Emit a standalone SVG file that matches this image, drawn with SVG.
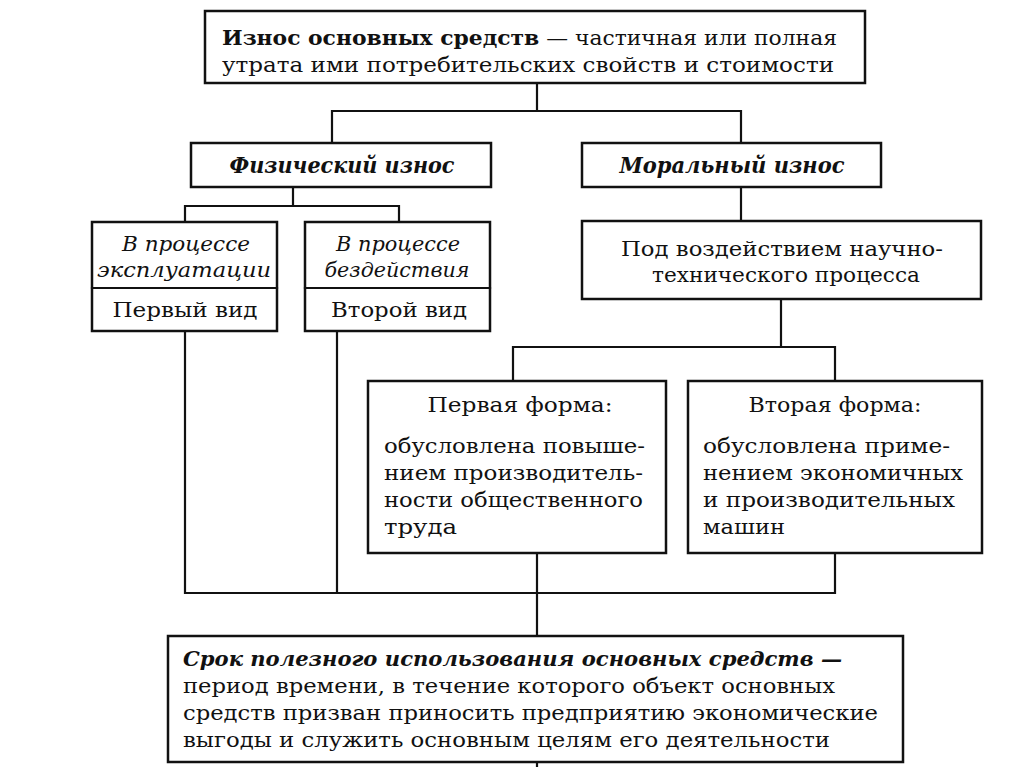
<svg xmlns="http://www.w3.org/2000/svg" width="1024" height="767" viewBox="0 0 1024 767">
<style>
.box{fill:#fff;stroke:#111;stroke-width:2.5}
.ln{fill:none;stroke:#111;stroke-width:2.2;stroke-linecap:square}
text{font-family:"DejaVu Serif","Liberation Serif",serif;font-size:21px;fill:#111}
.bi{font-weight:bold;font-style:italic}
.it{font-style:italic}
.b{font-weight:bold}
.c{text-anchor:middle}
</style>
<rect width="1024" height="767" fill="#fff"/>
<g id="connectors">
<path class="ln" d="M537 83V111M332 111H741M332 111V143M741 111V143"/>
<path class="ln" d="M293 187V206M185 206H399M185 206V222M399 206V222"/>
<path class="ln" d="M741 187V221"/>
<path class="ln" d="M781 299V347M513 347H835M513 347V381M835 347V381"/>
<path class="ln" d="M185 331V593H835V553M337 331V593M537 553V636M537 762V767"/>
</g>
<g id="node-top">
<rect class="box" x="205" y="11" width="660" height="72"/>
<text x="222" y="45" textLength="615" lengthAdjust="spacingAndGlyphs"><tspan class="b">Износ основных средств</tspan> — частичная или полная</text>
<text x="222" y="72" textLength="612" lengthAdjust="spacingAndGlyphs">утрата ими потребительских свойств и стоимости</text>
</g>
<g id="node-phys">
<rect class="box" x="191" y="143" width="300" height="44"/>
<text class="bi c" x="342" y="173" textLength="225" lengthAdjust="spacingAndGlyphs" style="font-size:22px">Физический износ</text>
</g>
<g id="node-moral">
<rect class="box" x="582" y="143" width="299" height="44"/>
<text class="bi c" x="732" y="173" textLength="225" lengthAdjust="spacingAndGlyphs" style="font-size:22px">Моральный износ</text>
</g>
<g id="node-expl">
<rect class="box" x="92" y="222" width="185" height="109"/>
<line class="ln" x1="92" y1="288" x2="277" y2="288"/>
<text class="it c" x="186" y="251" textLength="128" lengthAdjust="spacingAndGlyphs">В процессе</text>
<text class="it c" x="184" y="277" textLength="174" lengthAdjust="spacingAndGlyphs">эксплуатации</text>
<text class="c" x="185" y="317" textLength="145" lengthAdjust="spacingAndGlyphs">Первый вид</text>
</g>
<g id="node-idle">
<rect class="box" x="305" y="222" width="185" height="109"/>
<line class="ln" x1="305" y1="288" x2="490" y2="288"/>
<text class="it c" x="398" y="251" textLength="124" lengthAdjust="spacingAndGlyphs">В процессе</text>
<text class="it c" x="397" y="277" textLength="145" lengthAdjust="spacingAndGlyphs">бездействия</text>
<text class="c" x="399" y="317" textLength="136" lengthAdjust="spacingAndGlyphs">Второй вид</text>
</g>
<g id="node-ntp">
<rect class="box" x="582" y="221" width="399" height="78"/>
<text class="c" x="782" y="256" textLength="322" lengthAdjust="spacingAndGlyphs">Под воздействием научно-</text>
<text class="c" x="786" y="282" textLength="268" lengthAdjust="spacingAndGlyphs">технического процесса</text>
</g>
<g id="node-form1">
<rect class="box" x="368" y="381" width="298" height="172"/>
<text class="c" x="520" y="412" textLength="185" lengthAdjust="spacingAndGlyphs">Первая форма:</text>
<text x="384" y="453" textLength="261" lengthAdjust="spacingAndGlyphs">обусловлена повыше-</text>
<text x="384" y="480" textLength="259" lengthAdjust="spacingAndGlyphs">нием производитель-</text>
<text x="384" y="507" textLength="259" lengthAdjust="spacingAndGlyphs">ности общественного</text>
<text x="384" y="534" textLength="73" lengthAdjust="spacingAndGlyphs">труда</text>
</g>
<g id="node-form2">
<rect class="box" x="688" y="381" width="294" height="172"/>
<text class="c" x="835" y="412" textLength="173" lengthAdjust="spacingAndGlyphs">Вторая форма:</text>
<text x="703" y="453" textLength="247" lengthAdjust="spacingAndGlyphs">обусловлена приме-</text>
<text x="703" y="480" textLength="260" lengthAdjust="spacingAndGlyphs">нением экономичных</text>
<text x="703" y="507" textLength="252" lengthAdjust="spacingAndGlyphs">и производительных</text>
<text x="703" y="534" textLength="82" lengthAdjust="spacingAndGlyphs">машин</text>
</g>
<g id="node-term">
<rect class="box" x="168" y="636" width="735" height="126"/>
<text class="bi" x="183" y="666" textLength="659" lengthAdjust="spacingAndGlyphs">Срок полезного использования основных средств —</text>
<text x="183" y="693" textLength="652" lengthAdjust="spacingAndGlyphs">период времени, в течение которого объект основных</text>
<text x="183" y="720" textLength="695" lengthAdjust="spacingAndGlyphs">средств призван приносить предприятию экономические</text>
<text x="183" y="747" textLength="647" lengthAdjust="spacingAndGlyphs">выгоды и служить основным целям его деятельности</text>
</g>
</svg>
